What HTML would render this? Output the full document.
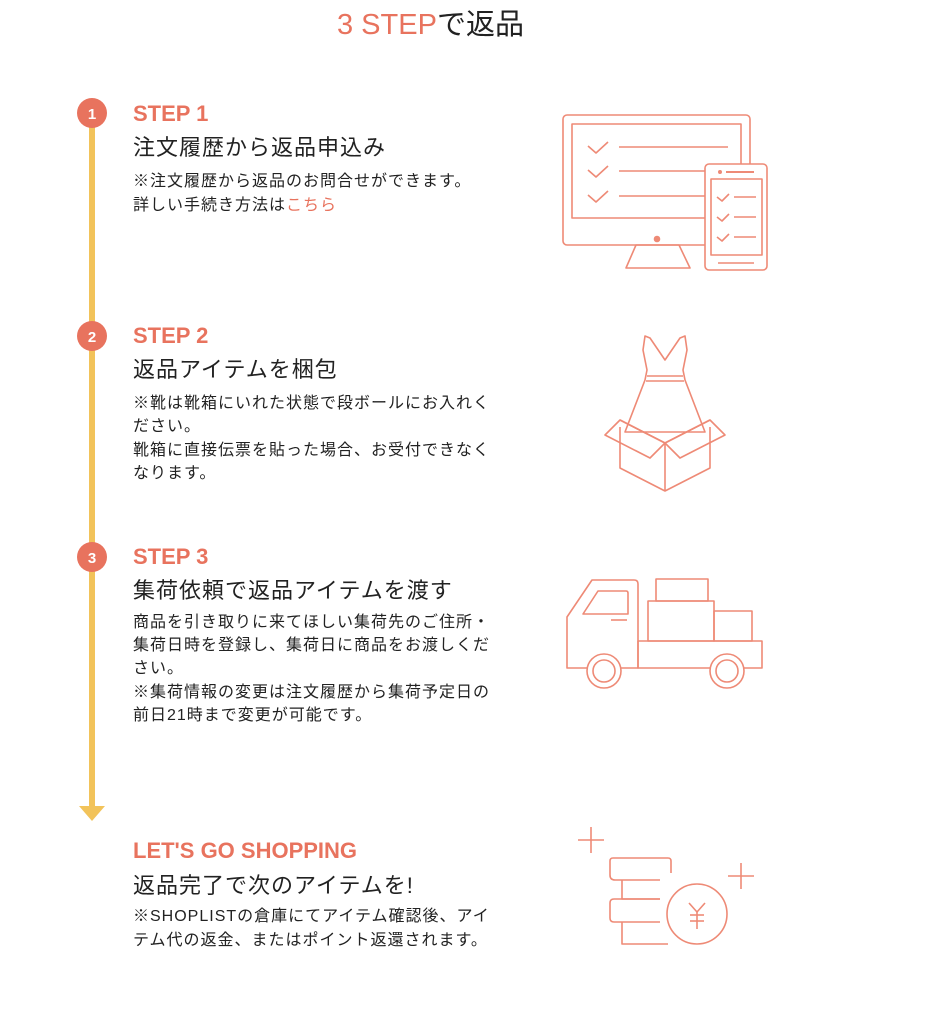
<!DOCTYPE html>
<html><head><meta charset="utf-8"><style>
body{margin:0;width:950px;height:1024px;background:#fff;position:relative;overflow:hidden;font-family:"Liberation Sans","Noto Sans CJK JP",sans-serif;color:#222}
.t{position:absolute;white-space:nowrap;line-height:1}
.s{color:#e8735e;font-weight:bold;font-size:22px}
.h{font-size:22px;letter-spacing:1px;color:#222}
.b{font-size:16px;letter-spacing:1px;color:#222}
.c{color:#e8735e}
</style></head><body>
<div class="t" style="left:337px;top:11px;font-size:29px"><span class="c">3 STEP</span>で返品</div>

<svg width="950" height="1024" style="position:absolute;left:0;top:0">
<line x1="92" y1="113" x2="92" y2="808" stroke="#f2c35a" stroke-width="6"/>
<polygon points="79,806 105,806 92,821" fill="#f2c35a"/>
<g fill="#e8735e"><circle cx="92" cy="113" r="15"/><circle cx="92" cy="336" r="15"/><circle cx="92" cy="557" r="15"/></g>
<g fill="#fff" font-family="Liberation Sans" font-weight="bold" font-size="15" text-anchor="middle"><text x="92" y="119">1</text><text x="92" y="342">2</text><text x="92" y="563">3</text></g>
<g fill="none" stroke="#ee8a76" stroke-width="1.6" stroke-linejoin="round">
<rect x="563" y="115" width="187" height="130" rx="4"/>
<rect x="572" y="124" width="169" height="94"/>
<polygon points="636,245 679,245 690,268 626,268"/>
<circle cx="657" cy="239" r="2.5" fill="#ee8a76"/>
<polyline points="588,146 596,153 608,142"/><line x1="619" y1="147" x2="728" y2="147"/>
<polyline points="588,170 596,177 608,166"/><line x1="619" y1="171" x2="705" y2="171"/>
<polyline points="588,195 596,202 608,191"/><line x1="619" y1="196" x2="705" y2="196"/>
<rect x="705" y="164" width="62" height="106" rx="4" fill="#fff"/>
<rect x="711" y="179" width="51" height="76"/>
<circle cx="720" cy="172" r="1.2" fill="#ee8a76"/><line x1="726" y1="172" x2="754" y2="172" stroke-width="2"/>
<line x1="718" y1="263" x2="754" y2="263"/>
<polyline points="717,197 722,201 729,194"/><line x1="734" y1="197" x2="756" y2="197"/>
<polyline points="717,217 722,221 729,214"/><line x1="734" y1="217" x2="756" y2="217"/>
<polyline points="717,237 722,241 729,234"/><line x1="734" y1="237" x2="756" y2="237"/>
<path d="M645,336 L650,338 L665,360 L680,338 L685,336 L687,350 L683,370 L685,380 L705,432 L625,432 L645,380 L647,370 L643,350 Z"/>
<line x1="647" y1="376" x2="683" y2="376"/><line x1="646" y1="381" x2="684" y2="381"/>
<polygon points="620,420 605,435 650,458 665,443"/>
<polygon points="710,420 725,435 680,458 665,443"/>
<polyline points="620,420 665,443 710,420"/>
<polyline points="620,427 620,468 665,491 710,468 710,427"/>
<line x1="665" y1="443" x2="665" y2="491"/>
<path d="M567,668 L567,617 L592,580 L634,580 Q638,580 638,584 L638,668 Z"/>
<path d="M583,614 L598,591 L626,591 Q628,591 628,593 L628,614 Z"/>
<line x1="611" y1="620" x2="627" y2="620"/>
<rect x="638" y="641" width="124" height="27"/>
<rect x="648" y="601" width="66" height="40"/><rect x="656" y="579" width="52" height="22"/><rect x="714" y="611" width="38" height="30"/>
<circle cx="604" cy="671" r="17" fill="#fff"/><circle cx="604" cy="671" r="11"/>
<circle cx="727" cy="671" r="17" fill="#fff"/><circle cx="727" cy="671" r="11"/>
<line x1="578" y1="840" x2="604" y2="840"/><line x1="591" y1="827" x2="591" y2="853"/>
<line x1="728" y1="876" x2="754" y2="876"/><line x1="741" y1="863" x2="741" y2="889"/>
<path d="M671,873 L671,861 Q671,858 668,858 L613,858 Q610,858 610,861 L610,875 Q610,880 615,880 L660,880"/>
<path d="M622,880 L622,899 L660,899"/>
<path d="M660,899 L614,899 Q610,899 610,903 L610,918 Q610,922 614,922 L660,922"/>
<path d="M622,922 L622,944 L668,944"/>
<circle cx="697" cy="914" r="30" fill="#fff"/>
<polyline points="689,903 697,912 705,903"/><line x1="697" y1="912" x2="697" y2="929"/>
<line x1="690" y1="915" x2="704" y2="915"/><line x1="690" y1="921" x2="704" y2="921"/>
</g>
</svg>

<div class="t s" style="left:133px;top:103px">STEP 1</div>
<div class="t h" style="left:133px;top:137px">注文履歴から返品申込み</div>
<div class="t b" style="left:133px;top:174px">※注文履歴から返品のお問合せができます。</div>
<div class="t b" style="left:133px;top:198px">詳しい手続き方法は<span class="c">こちら</span></div>

<div class="t s" style="left:133px;top:325px">STEP 2</div>
<div class="t h" style="left:133px;top:359px">返品アイテムを梱包</div>
<div class="t b" style="left:133px;top:396px">※靴は靴箱にいれた状態で段ボールにお入れく</div>
<div class="t b" style="left:133px;top:419px">ださい。</div>
<div class="t b" style="left:133px;top:443px">靴箱に直接伝票を貼った場合、お受付できなく</div>
<div class="t b" style="left:133px;top:466px">なります。</div>

<div class="t s" style="left:133px;top:546px">STEP 3</div>
<div class="t h" style="left:133px;top:580px">集荷依頼で返品アイテムを渡す</div>
<div class="t b" style="left:133px;top:615px">商品を引き取りに来てほしい集荷先のご住所・</div>
<div class="t b" style="left:133px;top:638px">集荷日時を登録し、集荷日に商品をお渡しくだ</div>
<div class="t b" style="left:133px;top:661px">さい。</div>
<div class="t b" style="left:133px;top:685px">※集荷情報の変更は注文履歴から集荷予定日の</div>
<div class="t b" style="left:133px;top:708px">前日21時まで変更が可能です。</div>

<div class="t s" style="left:133px;top:840px">LET'S GO SHOPPING</div>
<div class="t h" style="left:133px;top:875px">返品完了で次のアイテムを!</div>
<div class="t b" style="left:133px;top:909px">※SHOPLISTの倉庫にてアイテム確認後、アイ</div>
<div class="t b" style="left:133px;top:933px">テム代の返金、またはポイント返還されます。</div>
</body></html>
